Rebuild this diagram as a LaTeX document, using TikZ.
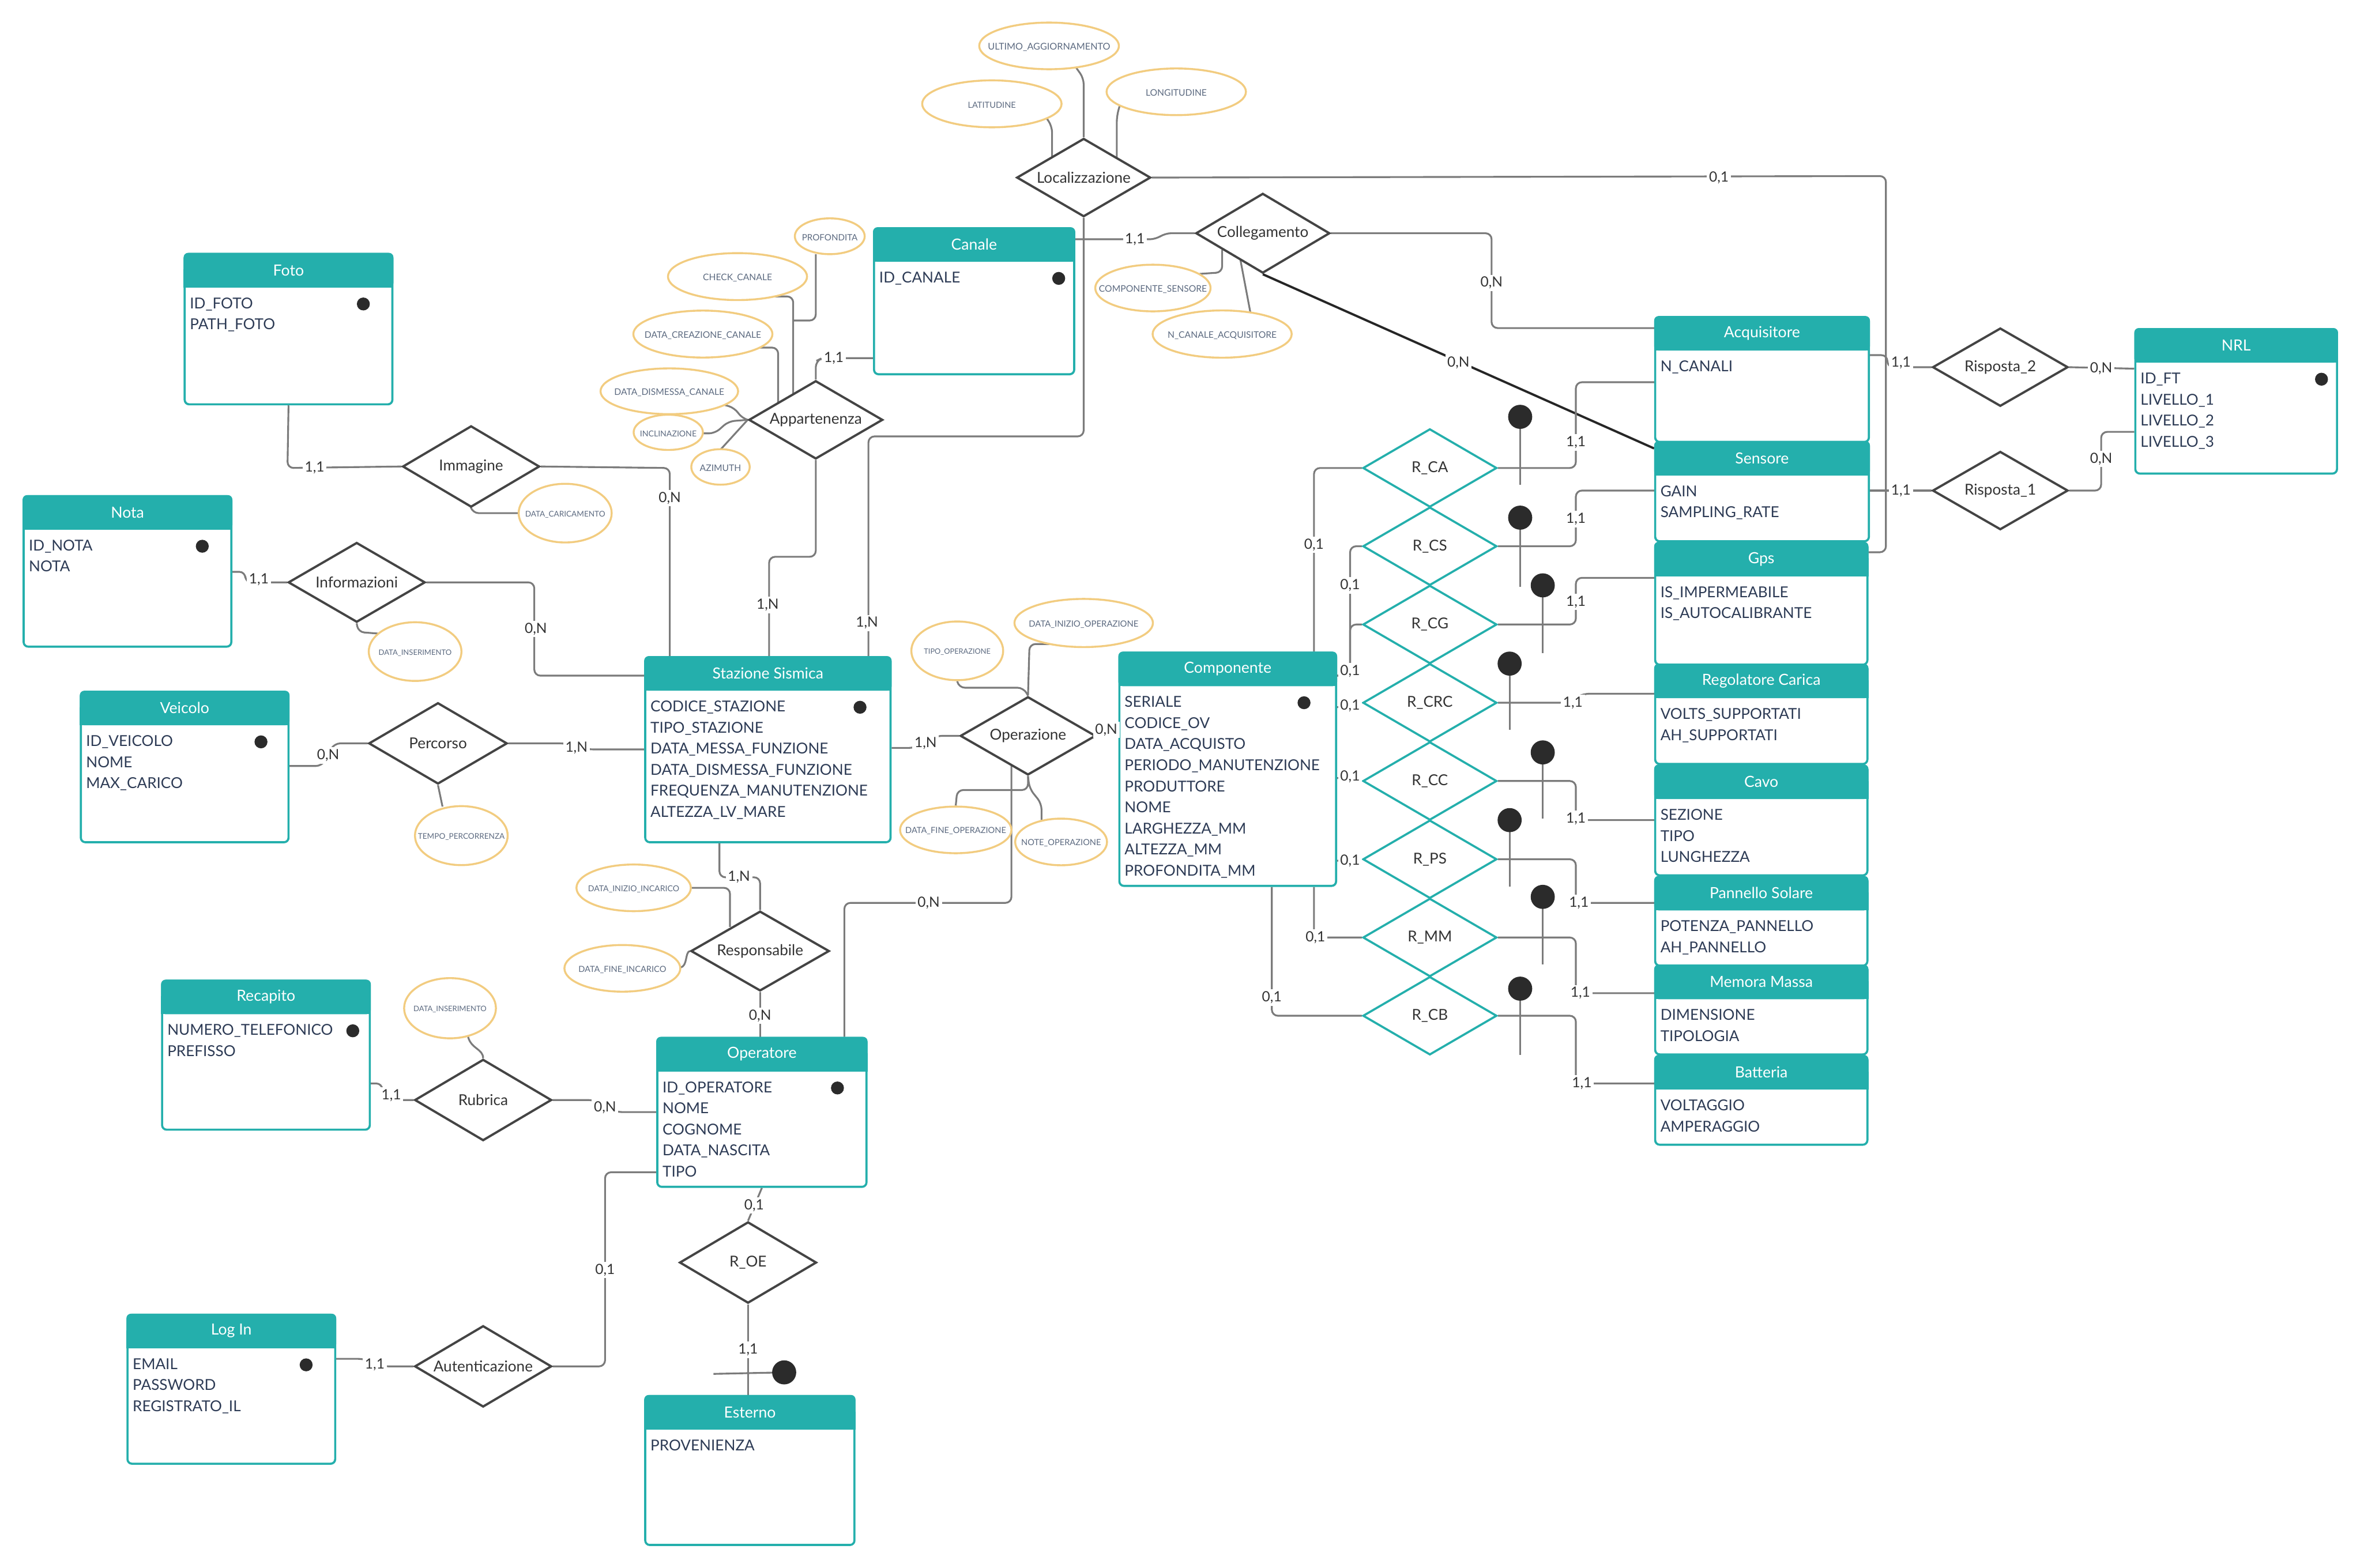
\documentclass[tikz,border=0pt]{standalone}
\usepackage{fontspec}
\setmainfont{Lato}
\usetikzlibrary{shapes.geometric,backgrounds}

\definecolor{tealhd}{HTML}{24AFAC}
\definecolor{linegr}{HTML}{7B7B7B}
\definecolor{diagr}{HTML}{444444}
\definecolor{ellor}{HTML}{F2CC80}
\definecolor{attrtx}{HTML}{2D3B55}
\definecolor{elltx}{HTML}{5C6A80}
\definecolor{dotbk}{HTML}{2B2B2B}
\definecolor{lbltx}{HTML}{333333}

\tikzset{
  conn/.style={draw=linegr, line width=1.2pt, rounded corners=4pt},
  idline/.style={draw=linegr, line width=1.2pt},
  card/.style={fill=white, inner sep=1.4pt, text=lbltx, font=\fontsize{9.4}{10}\selectfont},
  entbody/.style={rectangle, draw=tealhd, fill=white, line width=1.4pt, rounded corners=3pt, inner sep=0pt},
  enttitle/.style={text=white, inner sep=0pt, font=\fontsize{10.2}{12}\selectfont},
  attrtext/.style={text=attrtx, inner sep=0pt, font=\fontsize{10}{11}\selectfont},
  reldia/.style={diamond, draw=diagr, fill=white, line width=1.5pt, inner sep=0pt},
  rteal/.style={diamond, draw=tealhd, fill=white, line width=1.4pt, inner sep=0pt},
  reltext/.style={text=lbltx, inner sep=0pt, font=\fontsize{10}{12}\selectfont},
  attrell/.style={ellipse, draw=ellor, fill=white, line width=1.3pt, inner sep=0pt},
  elltext/.style={text=elltx, inner sep=0pt},
  keydot/.style={circle, fill=dotbk, inner sep=0pt, minimum size=8.6pt},
  iddot/.style={circle, fill=dotbk, inner sep=0pt, minimum size=16pt},
}

% entity: name, left, top, width, height, title, attribute list
\newcommand{\erentity}[7]{%
  \node[entbody, anchor=north west, minimum width=#4pt, minimum height=#5pt] (#1) at (#2,#3) {};
  \fill[tealhd, rounded corners=3pt] (#1.north west) rectangle ([yshift=-23pt]#1.north east);
  \fill[tealhd] ([yshift=-11pt]#1.north west) rectangle ([yshift=-23pt]#1.north east);
  \node[enttitle] at ([yshift=-11.5pt]#1.north) {#6};
  \foreach \eA [count=\eI from 0] in {#7} {
    \node[attrtext, anchor=base west] at ([xshift=4pt, yshift={-37pt-14pt*\eI}]#1.north west) {\eA};
  }
}
% key marker of an entity: name, distance from the right edge
\newcommand{\erkey}[2]{\node[keydot] at ([xshift=-#2pt, yshift=-34pt]#1.north east) {};}
% relationship: name, x, y, width, height, label
\newcommand{\errel}[6]{%
  \node[reldia, minimum width=#4pt, minimum height=#5pt] (#1) at (#2,#3) {};
  \node[reltext] at (#1) {#6};
}
\newcommand{\erteal}[4]{%
  \node[rteal, minimum width=89pt, minimum height=52pt] (#1) at (#2,#3) {};
  \node[reltext] at (#1) {#4};
}
% attribute ellipse: name, x, y, rx, ry, font size, text
\newcommand{\erattr}[7]{%
  \node[attrell, minimum width=2*#4pt, minimum height=2*#5pt] (#1) at (#2,#3) {};
  \node[elltext, font=\fontsize{#6}{#6}\selectfont] at ([yshift=-0.8pt]#1.center) {#7};
}
\newcommand{\crd}[3]{\node[card] at (#1,#2) {#3};}

\begin{document}
\begin{tikzpicture}[x=1pt,y=-1pt]
\useasboundingbox (0,0) rectangle (1568,1042);

% ---------------- entities ----------------
\erentity{foto}{122}{168}{138}{100}{Foto}{ID\_FOTO, PATH\_FOTO}
\erkey{foto}{20}
\erentity{nota}{15}{329}{138}{100}{Nota}{ID\_NOTA, NOTA}
\erkey{nota}{20}
\erentity{veicolo}{53}{459}{138}{100}{Veicolo}{ID\_VEICOLO, NOME, MAX\_CARICO}
\erkey{veicolo}{19}
\erentity{canale}{580}{151}{133}{97}{Canale}{ID\_CANALE}
\erkey{canale}{11}
\erentity{staz}{428}{436}{163}{123}{Stazione Sismica}{CODICE\_STAZIONE, TIPO\_STAZIONE, DATA\_MESSA\_FUNZIONE, DATA\_DISMESSA\_FUNZIONE, FREQUENZA\_MANUTENZIONE, ALTEZZA\_LV\_MARE}
\erkey{staz}{21}
\erentity{comp}{743}{433}{144}{155}{Componente}{SERIALE, CODICE\_OV, DATA\_ACQUISTO, PERIODO\_MANUTENZIONE, PRODUTTORE, NOME, LARGHEZZA\_MM, ALTEZZA\_MM, PROFONDITA\_MM}
\erkey{comp}{22}
\erentity{recap}{107}{651}{138}{99}{Recapito}{NUMERO\_TELEFONICO, PREFISSO}
\erkey{recap}{12}
\erentity{oper}{436}{689}{139}{99}{Operatore}{ID\_OPERATORE, NOME, COGNOME, DATA\_NASCITA, TIPO}
\erkey{oper}{20}
\erentity{login}{84}{873}{138}{99}{Log In}{EMAIL, PASSWORD, REGISTRATO\_IL}
\erkey{login}{20}
\erentity{esterno}{428}{927}{139}{99}{Esterno}{PROVENIENZA}
\erentity{acq}{1099}{210}{142}{83}{Acquisitore}{N\_CANALI}
\erentity{sens}{1099}{293}{142}{66}{Sensore}{GAIN, SAMPLING\_RATE}
\erentity{gps}{1099}{360}{141}{81}{Gps}{IS\_IMPERMEABILE, IS\_AUTOCALIBRANTE}
\erentity{reg}{1099}{441}{141}{66}{Regolatore Carica}{VOLTS\_SUPPORTATI, AH\_SUPPORTATI}
\erentity{cavo}{1099}{508}{141}{73}{Cavo}{SEZIONE, TIPO, LUNGHEZZA}
\erentity{pann}{1099}{582}{141}{59}{Pannello Solare}{POTENZA\_PANNELLO, AH\_PANNELLO}
\erentity{mem}{1099}{641}{141}{59}{Memora Massa}{DIMENSIONE, TIPOLOGIA}
\erentity{batt}{1099}{701}{141}{59}{Batteria}{VOLTAGGIO, AMPERAGGIO}
\erentity{nrl}{1418}{218}{134}{96}{NRL}{ID\_FT, LIVELLO\_1, LIVELLO\_2, LIVELLO\_3}
\erkey{nrl}{11}

% ---------------- relationships ----------------
\errel{loc}{720}{118}{89}{52}{Localizzazione}
\errel{coll}{839}{155}{89}{53}{Collegamento}
\errel{app}{542}{279}{89}{52}{Appartenenza}
\errel{imm}{313}{310}{91}{54}{Immagine}
\errel{info}{237}{387}{91}{53}{Informazioni}
\errel{perc}{291}{494}{92}{54}{Percorso}
\errel{opz}{683}{489}{90}{52}{Operazione}
\errel{resp}{505}{632}{92}{53}{Responsabile}
\errel{rub}{321}{731}{91}{54}{Rubrica}
\errel{aut}{321}{908}{91}{54}{Autenticazione}
\errel{roe}{497}{839}{91}{54}{R\_OE}
\errel{risp2}{1329}{244}{90}{52}{Risposta\_2}
\errel{risp1}{1329}{326}{90}{52}{Risposta\_1}

\erteal{rca}{950}{311}{R\_CA}
\erteal{rcs}{950}{363}{R\_CS}
\erteal{rcg}{950}{415}{R\_CG}
\erteal{rcrc}{950}{467}{R\_CRC}
\erteal{rcc}{950}{519}{R\_CC}
\erteal{rps}{950}{571}{R\_PS}
\erteal{rmm}{950}{623}{R\_MM}
\erteal{rcb}{950}{675}{R\_CB}

% ---------------- attributes ----------------
\erattr{aUltimo}{697}{30.5}{46.4}{15.5}{6.2}{ULTIMO\_AGGIORNAMENTO}
\erattr{aLat}{659}{69}{46.3}{15.6}{5.6}{LATITUDINE}
\erattr{aLong}{781.5}{61}{46.3}{15.5}{6}{LONGITUDINE}
\erattr{aProf}{551.3}{157}{23.2}{11.9}{5.8}{PROFONDITA}
\erattr{aCheck}{490}{183.8}{46.2}{15.6}{6}{CHECK\_CANALE}
\erattr{aCrea}{467}{222}{46.2}{15.6}{6}{DATA\_CREAZIONE\_CANALE}
\erattr{aDism}{444.7}{260}{45.7}{15.2}{6}{DATA\_DISMESSA\_CANALE}
\erattr{aIncl}{444}{287.3}{23}{11.7}{5.4}{INCLINAZIONE}
\erattr{aAzi}{478.7}{310.3}{19.4}{11.8}{6}{AZIMUTH}
\erattr{aCompS}{766}{191.4}{38.3}{15.5}{6}{COMPONENTE\_SENSORE}
\erattr{aNCan}{812}{222}{46.2}{15.7}{6}{N\_CANALE\_ACQUISITORE}
\erattr{aCaric}{375.5}{341}{30.9}{19.5}{5.2}{DATA\_CARICAMENTO}
\erattr{aIns1}{275.8}{433}{30.8}{19.5}{5}{DATA\_INSERIMENTO}
\erattr{aTempo}{306.5}{555.3}{30.8}{19.6}{5.2}{TEMPO\_PERCORRENZA}
\erattr{aTipoOp}{636}{432.5}{30.5}{19.5}{4.9}{TIPO\_OPERAZIONE}
\erattr{aInizOp}{720}{414}{46}{16}{5.7}{DATA\_INIZIO\_OPERAZIONE}
\erattr{aFineOp}{635}{551.5}{37}{15.5}{5.6}{DATA\_FINE\_OPERAZIONE}
\erattr{aNoteOp}{705}{559.5}{30.5}{15.5}{5.6}{NOTE\_OPERAZIONE}
\erattr{aInizInc}{421}{590}{38}{15.5}{5.4}{DATA\_INIZIO\_INCARICO}
\erattr{aFineInc}{413.5}{643.5}{38.5}{15.5}{5.6}{DATA\_FINE\_INCARICO}
\erattr{aIns2}{299}{670}{30.5}{20}{5}{DATA\_INSERIMENTO}

% ---------------- connectors (drawn beneath the shapes) ----------------
\begin{pgfonlayer}{background}
\fill[white] (0,0) rectangle (1568,1042);
% Localizzazione
\draw[conn] (loc.east) -- (1253,117) -- (1253,367) -- (gps.east |- 0,367);
\draw[conn] (loc.south) -- (720,290) -- (577,290) -- (staz.north -| 577,0);
\draw[conn] (715,45) -- (720,52) -- (loc.north);
\draw[conn] (695,78) -- (699,84) -- (699,104);
\draw[conn] (744,70) -- (742,77) -- (742,105);
% Collegamento
\draw[conn] (canale.east |- 0,159) -- (768,159) -- (774,155) -- (coll.west);
\draw[conn] (coll.east) -- (991,155) -- (991,218) -- (acq.west |- 0,218);
\draw[conn, draw=black!85, line width=1.5pt] (coll.south) -- ([yshift=-5pt]sens.north west);
\draw[conn] (812,166) -- (812,181) -- (797,182);
\draw[conn] (824,172) -- (831,209);
% Appartenenza
\draw[conn] (app.north) -- (542,240) -- (546,238) -- (canale.west |- 0,238);
\draw[conn] (app.south) -- (542,370) -- (511,370) -- (staz.north -| 511,0);
\draw[conn] (508,197) -- (527,197) -- (527,262);
\draw[conn] (542,169) -- (542,213) -- (527,213);
\draw[conn] (504,231) -- (517,231) -- (517,268);
\draw[conn] (481,269) -- (488,271) -- (493,278) -- (app.west);
\draw[conn] (466,288) -- (475,288) -- (484,280) -- (app.west);
\draw[conn] (478.5,299) -- (app.west);
% Risposta
\draw[conn] (acq.east |- 0,236) -- (1254,236) -- (1254,244) -- (risp2.west);
\draw[conn] (sens.east |- 0,326) -- (risp1.west);
\draw[conn] (risp2.east) -- (nrl.west |- 0,245);
\draw[conn] (risp1.east) -- (1396,326) -- (1396,287) -- (nrl.west |- 0,287);
% Immagine
\draw[conn] (foto.south) -- (191,311) -- (imm.west);
\draw[conn] (imm.east) -- (445,311) -- (staz.north -| 445,0);
\draw[conn] (imm.south) -- (314,341) -- (aCaric.west);
% Informazioni
\draw[conn] (nota.east |- 0,380) -- (163,380) -- (163,387) -- (info.west);
\draw[conn] (info.east) -- (355,387) -- (355,449) -- (staz.west |- 0,449);
\draw[conn] (info.south) -- (238,420) -- (251,421);
% Percorso
\draw[conn] (veicolo.east |- 0,509) -- (214,509) -- (222,494) -- (perc.west);
\draw[conn] (perc.east) -- (376,494) -- (390,498) -- (staz.west |- 0,498);
\draw[conn] (perc.south) -- (294,536);
% Operazione
\draw[conn] (staz.east |- 0,497) -- (608,497) -- (622,489) -- (opz.west);
\draw[conn] (opz.east) -- (comp.west |- 0,487);
\draw[conn] (672,509) -- (672,600) -- (561,600) -- (oper.north -| 561,0);
\draw[conn] (aTipoOp.south) -- (637,457) -- (680,457) -- (opz.north);
\draw[conn] (702,428) -- (684,428) -- (opz.north);
\draw[conn] (aFineOp.north) -- (636,525) -- (683,525) -- (opz.south);
\draw[conn] (opz.south) -- (684,524) -- (692,534) -- (692,545);
% Responsabile
\draw[conn] (staz.south -| 478,0) -- (478,583) -- (505,583) -- (resp.north);
\draw[conn] (resp.south) -- (oper.north -| 505,0);
\draw[conn] (aInizInc.east) -- (485,590) -- (485,616);
\draw[conn] (452,643) .. controls (457,642) and (455,633) .. (resp.west);
% Rubrica
\draw[conn] (recap.east |- 0,720) -- (254,720) -- (254,731) -- (rub.west);
\draw[conn] (rub.east) -- (395,731) -- (409,739) -- (oper.west |- 0,739);
\draw[conn] (311,689) .. controls (313,697) and (321,697) .. (rub.north);
% Autenticazione
\draw[conn] (login.east |- 0,903) -- (242,903) -- (254,908) -- (aut.west);
\draw[conn] (aut.east) -- (402,908) -- (402,779) -- (oper.west |- 0,779);
% R_OE
\draw[conn] (oper.south) -- (roe.north);
\draw[conn] (roe.south) -- (esterno.north -| roe.south);
% Componente and its parts
\draw[conn] (rca.west) -- (873,311) -- (comp.north -| 873,0);
\draw[conn] (rcs.west) -- (897,363) -- (897,449) -- (comp.east |- 0,449);
\draw[conn] (rcg.west) -- (897,415) -- (897,449) -- (comp.east |- 0,449);
\draw[conn] (comp.east |- 0,470) -- (rcrc.west);
\draw[conn] (comp.east |- 0,517) -- (rcc.west);
\draw[conn] (comp.east |- 0,572) -- (rps.west);
\draw[conn] (comp.south -| 873,0) -- (873,623) -- (rmm.west);
\draw[conn] (comp.south -| 845,0) -- (845,675) -- (rcb.west);
\draw[conn] (rca.east) -- (1047,311) -- (1047,254) -- (acq.west |- 0,254);
\draw[conn] (rcs.east) -- (1047,363) -- (1047,326) -- (sens.west |- 0,326);
\draw[conn] (rcg.east) -- (1047,415) -- (1047,384) -- (gps.west |- 0,384);
\draw[conn] (rcrc.east) -- (1040,467) -- (1052,461) -- (reg.west |- 0,461);
\draw[conn] (rcc.east) -- (1047,519) -- (1047,545) -- (cavo.west |- 0,545);
\draw[conn] (rps.east) -- (1047,571) -- (1047,600) -- (pann.west |- 0,600);
\draw[conn] (rmm.east) -- (1047,623) -- (1047,660) -- (mem.west |- 0,660);
\draw[conn] (rcb.east) -- (1047,675) -- (1047,720) -- (batt.west |- 0,720);
\end{pgfonlayer}

% ---------------- external identifiers ----------------
\foreach \ix/\iy/\iz in {1010/277/322, 1010/344/390, 1025/389/434, 1003/441/485, 1025/500/544, 1003/545/589, 1025/596/641, 1010/657/701} {
  \draw[idline] (\ix,\iy) -- (\ix,\iz);
  \node[iddot] at (\ix,\iy) {};
}
\draw[idline] (474,913) -- (521,912);
\node[iddot] at (521,912) {};

% ---------------- cardinalities ----------------
\crd{1142}{118}{0,1}
\crd{576}{414}{1,N}
\crd{754}{159}{1,1}
\crd{554}{238}{1,1}
\crd{510}{402}{1,N}
\crd{991}{188}{0,N}
\crd{969}{241}{0,N}
\crd{1263}{241}{1,1}
\crd{1263}{326}{1,1}
\crd{1396}{245}{0,N}
\crd{1396}{305}{0,N}
\crd{209}{311}{1,1}
\crd{445}{331}{0,N}
\crd{172}{385}{1,1}
\crd{356}{418}{0,N}
\crd{218}{502}{0,N}
\crd{383}{497}{1,N}
\crd{615}{494}{1,N}
\crd{735}{485}{0,N}
\crd{617}{600}{0,N}
\crd{491}{583}{1,N}
\crd{505}{675}{0,N}
\crd{260}{728}{1,1}
\crd{402}{736}{0,N}
\crd{249}{907}{1,1}
\crd{402}{844}{0,1}
\crd{501}{801}{0,1}
\crd{497}{897}{1,1}
\crd{873}{362}{0,1}
\crd{897}{389}{0,1}
\crd{897}{446}{0,1}
\crd{897}{469}{0,1}
\crd{897}{516}{0,1}
\crd{897}{572}{0,1}
\crd{874}{623}{0,1}
\crd{845}{663}{0,1}
\crd{1047}{294}{1,1}
\crd{1047}{345}{1,1}
\crd{1047}{400}{1,1}
\crd{1045}{467}{1,1}
\crd{1047}{544}{1,1}
\crd{1049}{600}{1,1}
\crd{1050}{660}{1,1}
\crd{1051}{720}{1,1}
\end{tikzpicture}
\end{document}
